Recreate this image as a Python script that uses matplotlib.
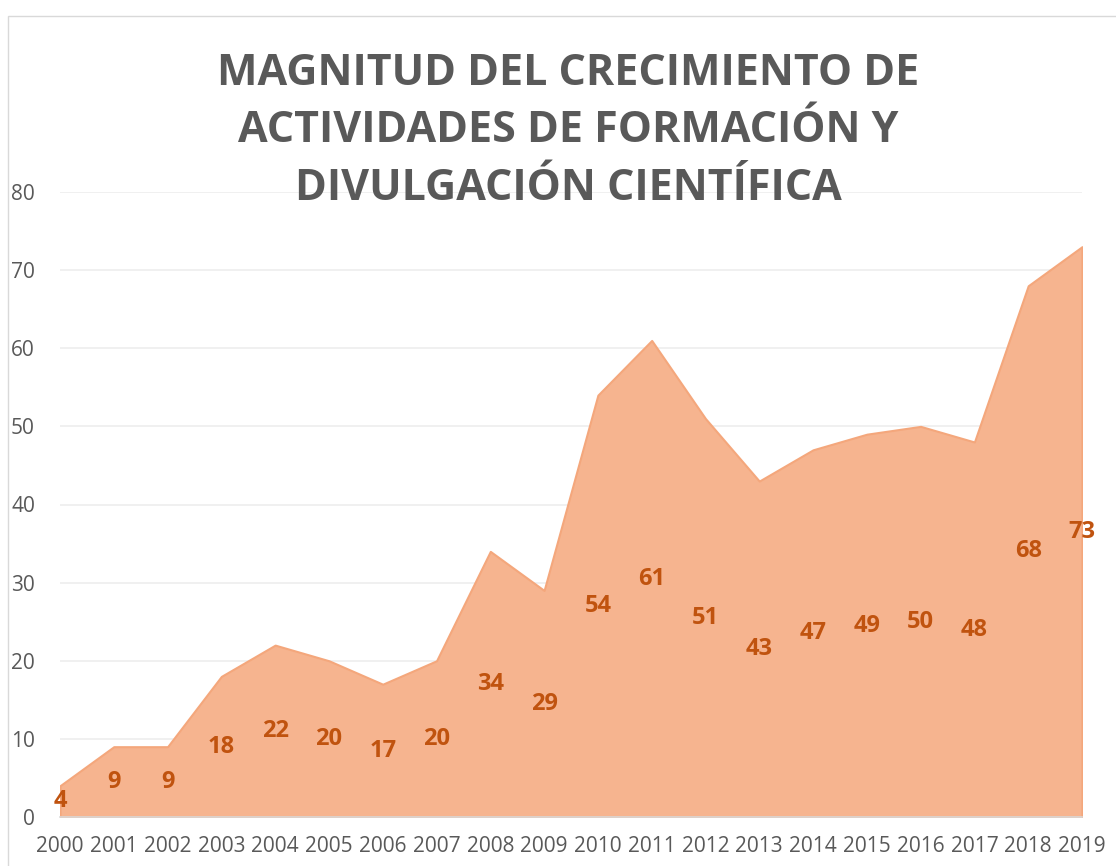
import matplotlib.pyplot as plt
from matplotlib.patches import Rectangle

years = [str(y) for y in range(2000, 2020)]
values = [4, 9, 9, 18, 22, 20, 17, 20, 34, 29, 54, 61, 51, 43, 47, 49, 50, 48, 68, 73]
yticks = [0, 10, 20, 30, 40, 50, 60, 70, 80]

title = "MAGNITUD DEL CRECIMIENTO DE\nACTIVIDADES DE FORMACIÓN Y\nDIVULGACIÓN CIENTÍFICA"

plt.rcParams['font.family'] = ['Open Sans', 'DejaVu Sans']

fig = plt.figure(figsize=(11.16, 8.66), dpi=100)
ax = fig.add_axes([60 / 1116, 1 - 817 / 866, (1082 - 60) / 1116, (817 - 192) / 866])

x = list(range(len(values)))
ax.fill_between(x, values, 0, color="#F6B48F", edgecolor="#F4A77C", linewidth=1.5, zorder=2)

for xi, v in zip(x, values):
    ax.text(xi, v / 2, str(v), ha="center", va="center", fontsize=17,
            fontweight="bold", color="#C0530F", zorder=3)

ax.set_xlim(0, len(values) - 1)
ax.set_ylim(0, 80)
ax.set_yticks(yticks)
ax.set_xticks(x)
ax.set_xticklabels(years)
ax.tick_params(axis="both", length=0, labelsize=15, colors="#595959")
ax.tick_params(axis="y", pad=18)
ax.tick_params(axis="x", pad=14)
ax.grid(axis="y", color="#EDEDED", linewidth=1.2, zorder=0)
ax.set_axisbelow(True)
for s in ["top", "right", "left"]:
    ax.spines[s].set_visible(False)
ax.spines["bottom"].set_color("#D9D9D9")
ax.spines["bottom"].set_linewidth(1.2)

fig.text(568 / 1116, 1 - 131 / 866, title, ha="center", va="center",
         fontsize=31, fontweight="bold", color="#595959", linespacing=1.45)

fig.patches.append(Rectangle((8 / 1116, -0.1), 1.2, 1 - 16 / 866 + 0.1,
                             transform=fig.transFigure, fill=False,
                             edgecolor="#D9D9D9", linewidth=1))

fig.savefig("out.png", dpi=100)
